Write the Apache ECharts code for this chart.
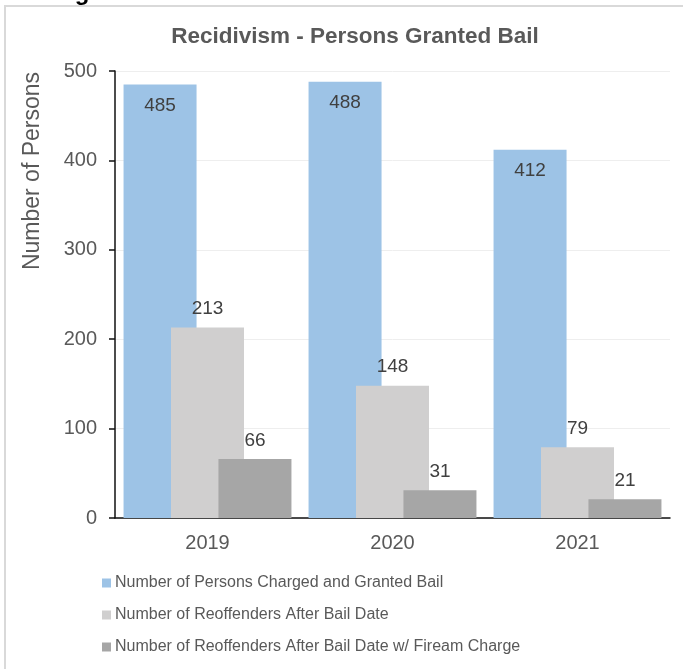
<!DOCTYPE html>
<html>
<head>
<meta charset="utf-8">
<script src="https://cdn.jsdelivr.net/npm/echarts@6/dist/echarts.min.js"></script>
<style>
  html, body { margin: 0; padding: 0; background: #fff; }
  #Charts { width: 683px; height: 669px; }
</style>
</head>
<body>
<div id="Charts"></div>
<script>
// data
const years = ['2019', '2020', '2021'];
const granted = [485, 488, 412];
const reoffenders = [213, 148, 79];
const firearm = [66, 31, 21];
const seriesNames = [
  'Number of Persons Charged and Granted Bail',
  'Number of Reoffenders After Bail Date',
  'Number of Reoffenders After Bail Date w/ Fiream Charge'
];
const yTicks = { min: 0, max: 500, interval: 100 };

const font = 'Liberation Sans, Arial, sans-serif';
const chart = echarts.init(document.getElementById('Charts'));

const option = {
  animation: false,
  backgroundColor: '#fff',
  textStyle: { fontFamily: font },
  title: {
    text: 'Recidivism - Persons Granted Bail',
    left: 350,
    textAlign: 'center',
    top: 20,
    textStyle: { fontFamily: font, fontSize: 22.5, fontWeight: 'bold', color: '#595959' }
  },
  graphic: [
    {
      type: 'rect',
      shape: { x: 5, y: 6, width: 700, height: 700 },
      style: { fill: 'none', stroke: '#d9d9d9', lineWidth: 2 },
      silent: true
    },
    {
      type: 'text',
      x: 20, y: -19,
      style: { text: 'Charges', font: 'bold 24px ' + font, fill: '#000', verticalAlign: 'top' },
      silent: true
    },
    {
      type: 'text',
      x: 33, y: 171,
      rotation: Math.PI / 2,
      style: {
        text: 'Number of Persons', font: '23px ' + font, fill: '#595959',
        align: 'center', verticalAlign: 'middle'
      },
      silent: true
    }
  ],
  legend: {
    orient: 'vertical',
    left: 97,
    top: 570,
    itemWidth: 9,
    itemHeight: 9,
    itemGap: 16,
    icon: 'rect',
    data: seriesNames,
    textStyle: { fontFamily: font, fontSize: 16, color: '#595959', padding: [0, 0, 0, -1] }
  },
  grid: { left: 115, right: 13, top: 71, bottom: 151, containLabel: false },
  xAxis: {
    type: 'category',
    data: years,
    axisLine: { lineStyle: { color: '#111', width: 1.5 } },
    axisTick: { show: false },
    axisLabel: { fontSize: 20, color: '#595959', margin: 15 }
  },
  yAxis: {
    type: 'value',
    min: yTicks.min,
    max: yTicks.max,
    interval: yTicks.interval,
    axisLine: { show: true, lineStyle: { color: '#111', width: 1.5 } },
    axisTick: { show: true, length: 6, lineStyle: { color: '#111', width: 1.5 } },
    axisLabel: { fontSize: 20, color: '#595959', margin: 18 },
    splitLine: { lineStyle: { color: '#eeeeee' } }
  },
  series: [
    {
      name: seriesNames[0],
      type: 'bar',
      data: granted,
      barWidth: 73,
      barGap: '-35%',
      itemStyle: { color: '#9dc3e6' },
      label: { show: true, position: 'insideTop', distance: 12, fontSize: 19, color: '#404040' }
    },
    {
      name: seriesNames[1],
      type: 'bar',
      data: reoffenders,
      barWidth: 73,
      barGap: '-35%',
      itemStyle: { color: '#d0cfcf' },
      label: { show: true, position: 'top', distance: 9, fontSize: 19, color: '#404040' }
    },
    {
      name: seriesNames[2],
      type: 'bar',
      data: firearm,
      barWidth: 73,
      barGap: '-35%',
      itemStyle: { color: '#a6a6a6' },
      label: { show: true, position: 'top', distance: 9, fontSize: 19, color: '#404040' }
    }
  ]
};

chart.setOption(option);
</script>
</body>
</html>
